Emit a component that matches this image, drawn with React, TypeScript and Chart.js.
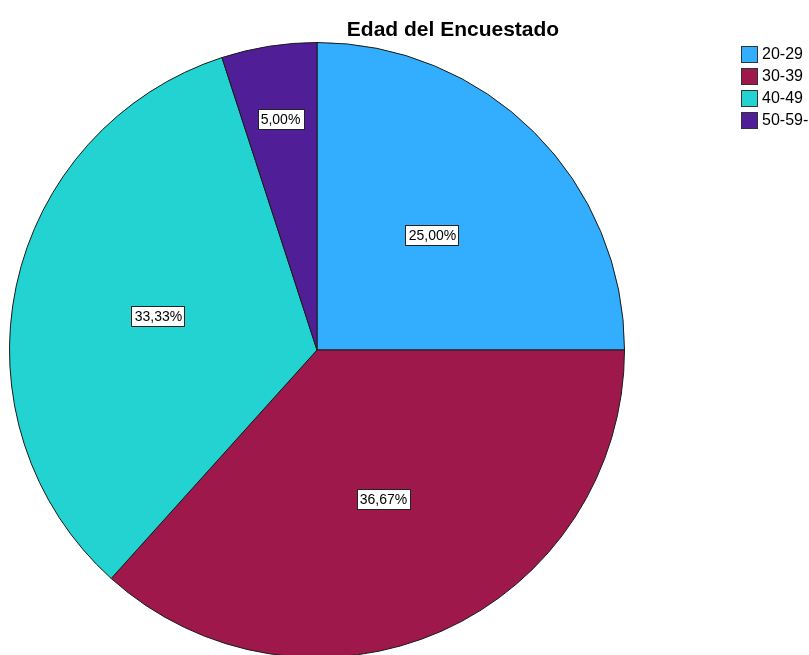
import React, { useEffect, useRef } from "react";
import { Chart, registerables } from "chart.js";

Chart.register(...registerables);

const titleText = "Edad del Encuestado";
const categories = ["20-29", "30-39", "40-49", "50-59-"];
const percentages = [25.0, 36.67, 33.33, 5.0];
const sliceColors = ["#33aefe", "#9e184b", "#22d3d1", "#501f98"];

const FONT = "'Liberation Sans', Arial, sans-serif";

const overlayPlugin = {
  id: "overlay",
  afterDraw(chart: any) {
    const ctx = chart.ctx as CanvasRenderingContext2D;
    ctx.save();
    // title
    ctx.fillStyle = "#000";
    ctx.font = `bold 21px ${FONT}`;
    ctx.textAlign = "center";
    ctx.textBaseline = "alphabetic";
    ctx.fillText(titleText, 453, 36);

    // slice labels
    const meta = chart.getDatasetMeta(0);
    ctx.font = `14px ${FONT}`;
    meta.data.forEach((arc: any, i: number) => {
      const { x, y, startAngle, endAngle, outerRadius } = arc.getProps(
        ["x", "y", "startAngle", "endAngle", "outerRadius"],
        true
      );
      const mid = (startAngle + endAngle) / 2;
      const span = endAngle - startAngle;
      const f = span < Math.PI / 6 ? 0.76 : 0.53;
      const cx = x + Math.cos(mid) * outerRadius * f;
      const cy = y + Math.sin(mid) * outerRadius * f;
      const txt = percentages[i].toFixed(2).replace(".", ",") + "%";
      const w = ctx.measureText(txt).width + 6;
      const h = 20;
      ctx.fillStyle = "#fff";
      ctx.fillRect(Math.round(cx - w / 2) + 0.5, Math.round(cy - h / 2) + 0.5, Math.round(w), h);
      ctx.strokeStyle = "#222";
      ctx.lineWidth = 1;
      ctx.strokeRect(Math.round(cx - w / 2) + 0.5, Math.round(cy - h / 2) + 0.5, Math.round(w), h);
      ctx.fillStyle = "#000";
      ctx.textAlign = "center";
      ctx.textBaseline = "middle";
      ctx.fillText(txt, Math.round(cx) + 0.5, Math.round(cy) + 1.5);
    });

    // legend
    ctx.font = `16px ${FONT}`;
    ctx.textAlign = "left";
    ctx.textBaseline = "middle";
    categories.forEach((c, i) => {
      const top = 46 + i * 22;
      ctx.fillStyle = sliceColors[i];
      ctx.fillRect(741.5, top + 0.5, 16, 16);
      ctx.strokeStyle = "#333";
      ctx.lineWidth = 1;
      ctx.strokeRect(741.5, top + 0.5, 16, 16);
      ctx.fillStyle = "#000";
      ctx.fillText(c, 762, top + 9);
    });
    ctx.restore();
  },
};

export default function App() {
  const ref = useRef<HTMLCanvasElement | null>(null);
  useEffect(() => {
    document.body.style.margin = "0";
    document.body.style.overflow = "hidden";
    const chart = new Chart(ref.current as HTMLCanvasElement, {
      type: "pie",
      data: {
        labels: categories,
        datasets: [
          {
            data: percentages,
            backgroundColor: sliceColors,
            borderColor: "#1a1a1a",
            borderWidth: 1,
          },
        ],
      },
      options: {
        animation: false,
        responsive: false,
        maintainAspectRatio: false,
        layout: { padding: { left: 9, right: 184, top: 42, bottom: 4 } },
        plugins: {
          legend: { display: false },
          title: { display: false },
          tooltip: { enabled: false },
        },
      },
      plugins: [overlayPlugin],
    });
    return () => chart.destroy();
  }, []);
  return (
    <div style={{ position: "absolute", left: 0, top: 0, width: 809, height: 662, background: "#fff" }}>
      <canvas ref={ref} width={809} height={662} style={{ width: 809, height: 662 }} />
    </div>
  );
}
